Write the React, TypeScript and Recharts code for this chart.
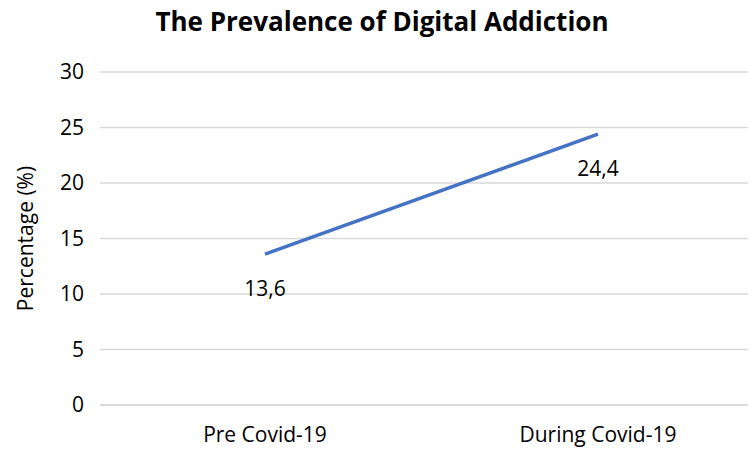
import { LineChart, Line, XAxis, YAxis, CartesianGrid, LabelList } from 'recharts';

const periods = ['Pre Covid-19', 'During Covid-19'];
const prevalence = [13.6, 24.4];
const yTicks = [0, 5, 10, 15, 20, 25, 30];

const data = periods.map((p, i) => ({ period: p, value: prevalence[i] }));

const font = '"Open Sans", "Liberation Sans", sans-serif';

const renderLabel = (props: any) => {
  const { x, y, value } = props;
  return (
    <text x={x} y={y + 42} textAnchor="middle" fontSize={21} fill="#000" fontFamily={font}>
      {String(value).replace('.', ',')}
    </text>
  );
};

export default function App() {
  return (
    <div style={{ position: 'absolute', left: 0, top: 0, width: 749, height: 453, background: '#fff', fontFamily: font }}>
      <div
        style={{
          position: 'absolute',
          top: 3,
          left: 0,
          width: 764,
          textAlign: 'center',
          fontSize: 26,
          fontWeight: 'bold',
          color: '#000',
        }}
      >
        The Prevalence of Digital Addiction
      </div>
      <LineChart width={749} height={453} data={data} margin={{ top: 72, right: 1, left: 0, bottom: 0 }}>
        <CartesianGrid vertical={false} stroke="#d9d9d9" strokeWidth={1.3} />
        <XAxis
          dataKey="period"
          padding={{ left: 165, right: 150 }}
          axisLine={{ stroke: '#d9d9d9', strokeWidth: 1.3 }}
          tickLine={false}
          tickSize={0}
          tickMargin={22}
          height={48}
          tick={{ fontSize: 21, fill: '#000', fontFamily: font }}
        />
        <YAxis
          domain={[0, 30]}
          ticks={yTicks}
          width={100}
          axisLine={false}
          tickLine={false}
          tickSize={0}
          tickMargin={16}
          tick={{ fontSize: 21, fill: '#000', fontFamily: font }}
          label={{
            value: 'Percentage (%)',
            angle: -90,
            position: 'insideLeft',
            offset: 26,
            style: { textAnchor: 'middle', fontSize: 21, fill: '#000', fontFamily: font },
          }}
        />
        <Line
          type="linear"
          dataKey="value"
          stroke="#4472C4"
          strokeWidth={3.5}
          dot={false}
          isAnimationActive={false}
        >
          <LabelList dataKey="value" content={renderLabel} />
        </Line>
      </LineChart>
    </div>
  );
}
